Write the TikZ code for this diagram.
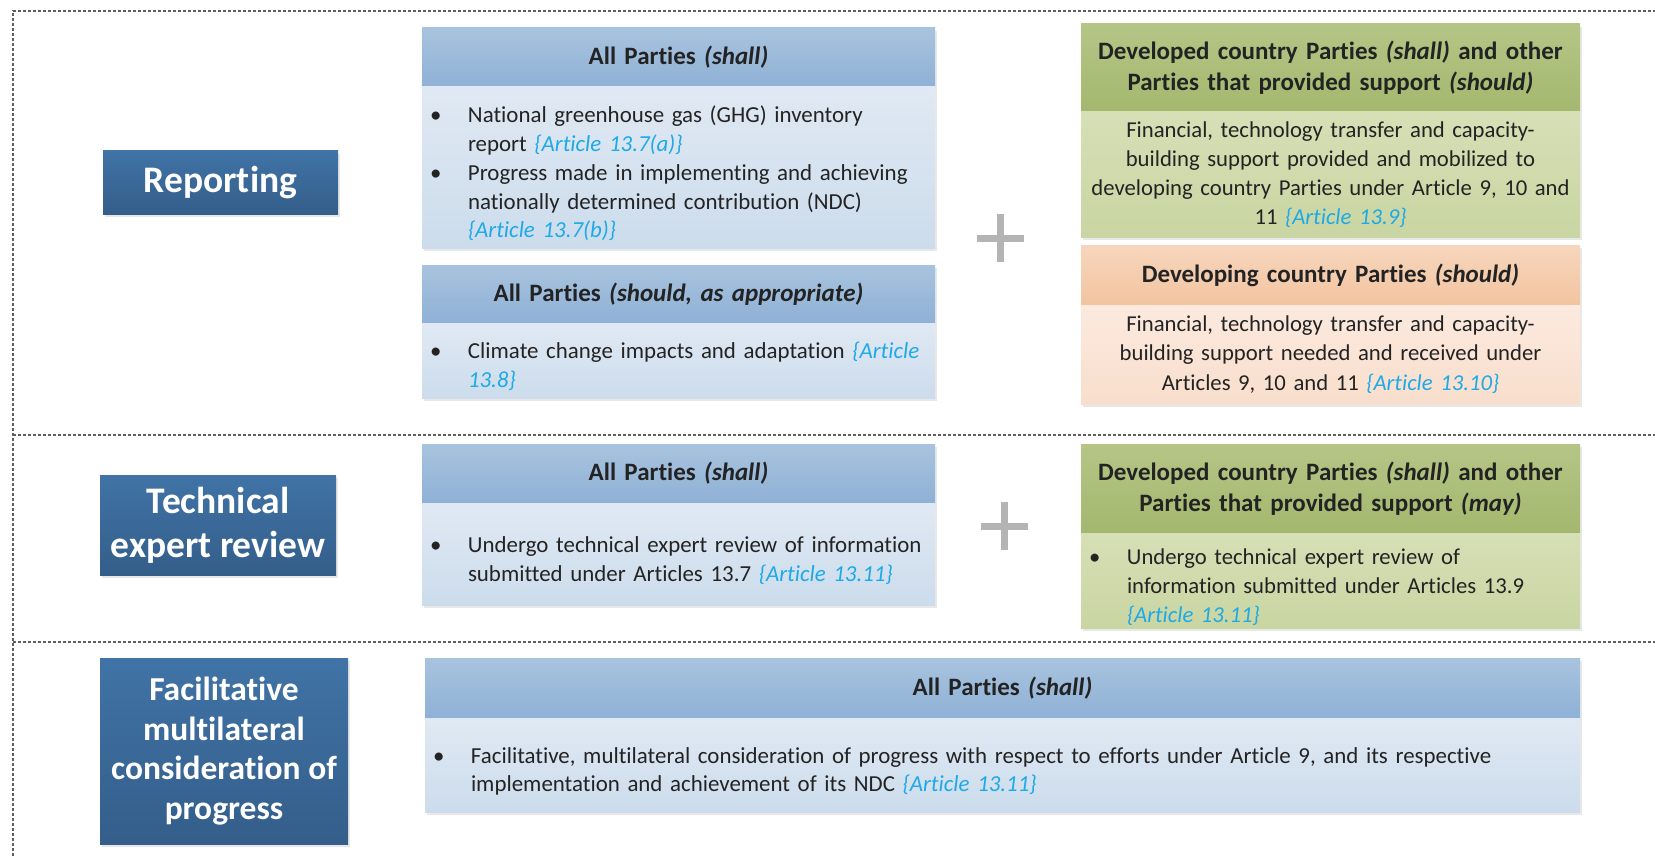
\documentclass[tikz,border=0pt]{standalone}
\usepackage{fontspec}
\setmainfont{Carlito}[Ligatures=NoCommon, RawFeature=-calt]
\usetikzlibrary{positioning,shadows}

\definecolor{titleblue}{RGB}{64,115,166}
\definecolor{titlebluedark}{RGB}{52,94,138}
\definecolor{headblue}{RGB}{168,195,222}
\definecolor{headbluedark}{RGB}{143,177,214}
\definecolor{bodyblue}{RGB}{224,233,243}
\definecolor{bodybluedark}{RGB}{204,220,236}
\definecolor{headgreen}{RGB}{181,197,134}
\definecolor{headgreendark}{RGB}{163,184,110}
\definecolor{bodygreen}{RGB}{215,223,182}
\definecolor{bodygreendark}{RGB}{201,213,162}
\definecolor{headorange}{RGB}{247,214,189}
\definecolor{headorangedark}{RGB}{242,196,160}
\definecolor{bodyorange}{RGB}{252,234,223}
\definecolor{bodyorangedark}{RGB}{248,222,204}
\definecolor{citecyan}{RGB}{30,170,230}
\definecolor{plusgrey}{RGB}{180,180,180}
\definecolor{lanegrey}{RGB}{95,95,95}
\definecolor{inkgrey}{RGB}{35,35,35}

\newcommand{\art}[1]{\textcolor{citecyan}{\textit{\{Article #1\}}}}
\newcommand{\bitem}[1]{\par\hangindent=38pt\hangafter=1\noindent\makebox[38pt][l]{\textbullet}#1\par}

\tikzset{
  lane/.style={draw=lanegrey, line width=1.8pt, dash pattern=on 3pt off 2pt},
  plussign/.style={draw=plusgrey, line width=7pt},
  softshadow/.style={drop shadow={opacity=0.18, shadow xshift=2pt, shadow yshift=-3pt}},
  titlebox/.style={top color=titleblue, bottom color=titlebluedark, text=white, softshadow,
    align=center, inner sep=0pt, outer sep=0pt},
  phead/.style={anchor=north west, inner xsep=8pt, inner ysep=0pt, outer sep=0pt, softshadow,
    align=center, text=inkgrey, font=\bfseries\fontsize{25}{30.6}\selectfont},
  pbody/.style={inner xsep=8pt, inner ysep=0pt, outer sep=0pt, softshadow, text=inkgrey},
  bluehead/.style={phead, top color=headblue, bottom color=headbluedark},
  bluebody/.style={pbody, top color=bodyblue, bottom color=bodybluedark,
    align=left, font=\fontsize{22.9}{28.8}\selectfont},
  greenhead/.style={phead, top color=headgreen, bottom color=headgreendark},
  greenbody/.style={pbody, top color=bodygreen, bottom color=bodygreendark,
    font=\fontsize{22.7}{29.2}\selectfont},
  orangehead/.style={phead, top color=headorange, bottom color=headorangedark},
  orangebody/.style={pbody, top color=bodyorange, bottom color=bodyorangedark,
    align=center, font=\fontsize{22.7}{29.2}\selectfont},
}

\begin{document}
\begin{tikzpicture}[x=1pt, y=-1pt]
  \useasboundingbox (0,0) rectangle (1655,856);

  % Lanes
  \draw[lane] (13,856) -- (13,11) -- (1655,11);
  \draw[lane] (13,435) -- (1655,435);
  \draw[lane] (13,642) -- (1655,642);

  % Titles
  \node[titlebox, minimum width=235pt, minimum height=63pt, font=\bfseries\fontsize{37.5}{44}\selectfont] (reporting) at (220.5,182.5) {Reporting};
  \node[titlebox, minimum width=236pt, minimum height=100pt, font=\bfseries\fontsize{37.5}{44}\selectfont] (review) at (218,525) {Technical\\expert review};
  \node[titlebox, minimum width=248pt, minimum height=186pt, font=\bfseries\fontsize{33.5}{39.8}\selectfont] (fmcp) at (224,751) {Facilitative\\multilateral\\consideration of\\progress};

  % Reporting
  \node[bluehead, text width=497pt, minimum height=59pt] (shallhead) at (422,28) {All Parties \textit{(shall)}};
  \node[bluebody, text width=497pt, minimum height=161pt, below=0pt of shallhead] (shallbody) {%
    \bitem{National greenhouse gas (GHG) inventory\newline report \art{13.7(a)}}
    \bitem{Progress made in implementing and achieving\newline nationally determined contribution (NDC)\newline \art{13.7(b)}}};
  \node[bluehead, text width=497pt, minimum height=58pt] (shouldhead) at (422,265) {All Parties \textit{(should, as appropriate)}};
  \node[bluebody, text width=497pt, minimum height=75pt, below=0pt of shouldhead] (shouldbody) {%
    \bitem{Climate change impacts and adaptation \textcolor{citecyan}{\textit{\{Article}}\newline \textcolor{citecyan}{\textit{13.8\}}}}};

  \coordinate (plusA) at (1000,238);
  \draw[plussign] ([xshift=-23.5pt]plusA) -- ([xshift=23.5pt]plusA);
  \draw[plussign] ([yshift=-24pt]plusA) -- ([yshift=24pt]plusA);

  \node[greenhead, text width=483pt, minimum height=88pt] (providedhead) at (1081,24) {Developed country Parties \textit{(shall)} and other\\Parties that provided support \textit{(should)}};
  \node[greenbody, text width=483pt, minimum height=125pt, below=0pt of providedhead, align=center] (providedbody) {%
    Financial, technology transfer and capacity-\\building support provided and mobilized to\\developing country Parties under Article 9, 10 and\\11 \art{13.9}};
  \node[orangehead, text width=483pt, minimum height=60pt] (neededhead) at (1081,245) {Developing country Parties \textit{(should)}};
  \node[orangebody, text width=483pt, minimum height=99pt, below=0pt of neededhead] (neededbody) {%
    Financial, technology transfer and capacity-\\building support needed and received under\\Articles 9, 10 and 11 \art{13.10}};

  % Technical expert review
  \node[bluehead, text width=497pt, minimum height=59pt] (terhead) at (422,444) {All Parties \textit{(shall)}};
  \node[bluebody, text width=497pt, minimum height=102pt, below=0pt of terhead] (terbody) {%
    \bitem{Undergo technical expert review of information\newline submitted under Articles 13.7 \art{13.11}}};

  \coordinate (plusB) at (1004,526);
  \draw[plussign] ([xshift=-23.5pt]plusB) -- ([xshift=23.5pt]plusB);
  \draw[plussign] ([yshift=-24pt]plusB) -- ([yshift=24pt]plusB);

  \node[greenhead, text width=483pt, minimum height=89pt] (mayhead) at (1081,444) {Developed country Parties \textit{(shall)} and other\\Parties that provided support \textit{(may)}};
  \node[greenbody, text width=483pt, minimum height=95pt, below=0pt of mayhead, align=left] (maybody) {%
    \bitem{Undergo technical expert review of\newline information submitted under Articles 13.9\newline \art{13.11}}};

  % Facilitative multilateral consideration of progress
  \node[bluehead, text width=1139pt, minimum height=60pt] (fmcphead) at (425,658) {All Parties \textit{(shall)}};
  \node[bluebody, text width=1139pt, minimum height=94pt, below=0pt of fmcphead] (fmcpbody) {%
    \bitem{Facilitative, multilateral consideration of progress with respect to efforts under Article 9, and its respective\newline implementation and achievement of its NDC \art{13.11}}};
\end{tikzpicture}
\end{document}
